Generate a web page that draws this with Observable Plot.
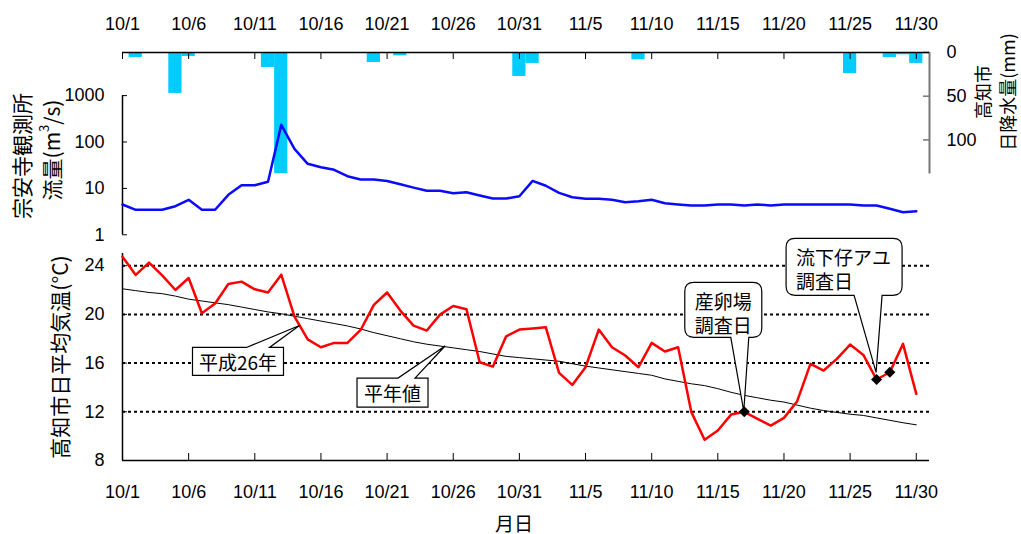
<!DOCTYPE html>
<html><head><meta charset="utf-8">
<script src="https://cdn.jsdelivr.net/npm/d3@7"></script>
<script src="https://cdn.jsdelivr.net/npm/@observablehq/plot@0.6"></script>
<style>
body{margin:0;background:#fff;}
#chart{position:relative;width:1021px;height:534px;overflow:hidden;background:#fff;}
#chart svg{position:absolute;left:0;top:0;}
</style></head><body><div id="chart"></div>
<script>
// ---------- data ----------
const YEAR = 2014;
const tickLabels = ["10/1","10/6","10/11","10/16","10/21","10/26","10/31","11/5","11/10","11/15","11/20","11/25","11/30"];
const flowTicks = [1, 10, 100, 1000];
const tempTicks = [8, 12, 16, 20, 24];
const rainTicks = [0, 50, 100];
const gridTemps = [12, 16, 20, 24];

// daily values 10/1 .. 11/30
const flow = [4.5,3.46,3.46,3.46,4.14,5.68,3.46,3.46,7.28,11.7,
  11.7,13.9,234,71.3,33.9,28.6,25.2,18.3,15.5,15.5,
  14.5,12.3,10.4,8.87,8.87,7.88,8.28,7.03,6.05,6.05,
  6.79,14.5,11.4,8.0,6.46,5.97,5.97,5.68,5.04,5.3,
  5.68,4.8,4.5,4.28,4.28,4.5,4.5,4.28,4.5,4.28,
  4.5,4.5,4.5,4.5,4.5,4.5,4.28,4.28,3.63,3.07,3.2];
const rain = [0,5.7,0,0,46.8,4.5,0,0,0,0,
  0,17.1,138.5,0,0,0,0,0,0,11.4,
  0,3.8,0,0,0,0,0,0,0,0,
  27.4,12.5,0,0,0,0,1.1,0,0,8.3,
  0,0,1.1,0,0,0,0,0,0,0,
  0,0,0,0,1.0,24,0,0,5.7,2.6,12.5];
const temp2014 = [24.74,23.24,24.25,23.2,22.0,22.99,20.09,20.9,22.5,22.69,
  22.06,21.8,23.26,19.82,17.95,17.3,17.66,17.66,18.72,20.78,
  21.8,20.31,19.08,18.67,19.98,20.69,20.42,16.07,15.71,18.2,
  18.75,18.85,18.94,15.2,14.21,15.66,18.75,17.3,16.62,15.66,
  17.66,16.95,17.3,11.97,9.7,10.46,11.77,12.0,11.42,10.87,
  11.5,12.87,15.94,15.39,16.35,17.52,16.67,14.65,15.25,17.58,13.47];
const tempNormal = [22.1,21.95,21.8,21.7,21.5,21.25,21.1,20.95,20.8,20.6,
  20.4,20.2,20.05,19.85,19.65,19.45,19.25,19.05,18.8,18.5,
  18.25,18.0,17.75,17.55,17.4,17.25,17.1,16.95,16.75,16.55,
  16.45,16.35,16.25,16.15,15.95,15.75,15.6,15.45,15.3,15.15,
  15.0,14.7,14.5,14.3,14.15,13.9,13.6,13.35,13.15,12.95,
  12.8,12.55,12.3,12.1,11.95,11.8,11.7,11.5,11.3,11.1,10.93];
const surveyDays = ["11/17","11/27","11/28"];
// callout anchors: label lines, date (M/D + hour), value on the temperature axis
const callouts = [
  {lines:["平成26年"], at:"10/14", hour:10.5, value:19.05, kind:"rect"},
  {lines:["平年値"], at:"10/25", hour:10, value:17.36, kind:"rect"},
  {lines:["産卵場","調査日"], at:"11/17", hour:0, value:12.0, kind:"round"},
  {lines:["流下仔アユ","調査日"], at:"11/27", hour:0, value:15.2, kind:"round"}
];

// ---------- helpers ----------
const parseMD = (s, h = 0) => { const [m, d] = s.split("/").map(Number); return new Date(Date.UTC(YEAR, m - 1, d, h)); };
const start = parseMD("10/1");
const end = parseMD("12/1");
const dates = temp2014.map((_, i) => new Date(start.getTime() + i * 864e5));
const tickDates = tickLabels.map(s => parseMD(s));
const fmt = d => `${d.getUTCMonth() + 1}/${d.getUTCDate()}`;
const half = 12 * 3600e3;
const flowData = dates.map((date, i) => ({date, flow: flow[i]}));
const rainData = dates.map((date, i) => ({d1: new Date(date - half), d2: new Date(+date + half), rain: rain[i]})).filter(d => d.rain > 0);
const tempData = dates.map((date, i) => ({date, t: temp2014[i]}));
const normData = dates.map((date, i) => ({date, t: tempNormal[i]}));
const surveyData = surveyDays.map(s => { const date = parseMD(s); const i = Math.round((date - start) / 864e5); return {date, t: temp2014[i]}; });

const W = 1021, H = 534;
const FONT = '"Liberation Sans", Arial, "Noto Sans CJK JP", sans-serif';
const JFONT = '"Noto Sans CJK JP", "Liberation Sans", sans-serif';
const common = {
  width: W, height: H, marginLeft: 122, marginRight: 92,
  style: {background: "transparent", fontFamily: FONT, fontSize: "18px", color: "#000", overflow: "visible"},
  x: {type: "utc", domain: [start, end]}
};
const chart = document.getElementById("chart");

// ---------- rain (right axis, hanging bars) ----------
const rainPlot = Plot.plot({
  ...common, marginTop: 52, marginBottom: H - 173.5,
  y: {domain: [0, 139], reverse: true},
  marks: [
    Plot.rectY(rainData, {x1: "d1", x2: "d2", y: "rain", fill: "#00ccff"}),
    Plot.ruleX([end], {stroke: "#777", strokeWidth: 2}),
    Plot.axisY({anchor: "right", ticks: rainTicks, tickSize: -7, tickPadding: 24, stroke: "#777", strokeWidth: 1.5, textAnchor: "start", fontSize: 18, fill: "#000", label: null}),
    Plot.axisX({ticks: [], label: null})
  ]
});
chart.append(rainPlot);

// ---------- flow (log) ----------
const flowTop = 8500;
const flowPlot = Plot.plot({
  ...common, marginTop: 52, marginBottom: H - 234.3,
  y: {type: "log", domain: [1, flowTop]},
  marks: [
    Plot.ruleX([start], {y1: 1, y2: 1000, strokeWidth: 1.5}),
    Plot.ruleY([flowTop], {strokeWidth: 1.5}),
    Plot.axisY({ticks: flowTicks, tickSize: -5, tickPadding: 23, tickFormat: d => String(d), fontSize: 18, label: null}),
    Plot.axisX({anchor: "top", ticks: tickDates, tickSize: -6, tickPadding: 29, tickFormat: fmt, fontSize: 18, label: null}),
    Plot.line(flowData, {x: "date", y: "flow", stroke: "#0a0aff", strokeWidth: 2.5})
  ]
});
chart.append(flowPlot);

// ---------- temperature ----------
const tempPlot = Plot.plot({
  ...common, marginTop: 253, marginBottom: H - 460,
  y: {domain: [8, 25]},
  marks: [
    Plot.ruleY(gridTemps, {strokeDasharray: "3,3", strokeWidth: 2}),
    Plot.ruleX([start], {strokeWidth: 1.5}),
    Plot.ruleY([8], {strokeWidth: 1.5}),
    Plot.axisY({ticks: tempTicks, tickSize: -5, tickPadding: 23, fontSize: 18, label: null}),
    Plot.axisX({anchor: "bottom", ticks: tickDates, tickSize: -7, tickPadding: 32, tickFormat: fmt, fontSize: 18, label: null}),
    Plot.line(normData, {x: "date", y: "t", stroke: "#000", strokeWidth: 1}),
    Plot.line(tempData, {x: "date", y: "t", stroke: "#ff0000", strokeWidth: 2.5}),
    Plot.dot(surveyData, {x: "date", y: "t", symbol: "diamond2", r: 5, fill: "#000"})
  ]
});
chart.append(tempPlot);

// callouts placed via the plot's own scales
(function () {
  const sx = tempPlot.scale("x"), sy = tempPlot.scale("y");
  const svg = d3.select(tempPlot);
  const g = svg.append("g").attr("font-family", JFONT).attr("font-size", 19);
  // box geometry relative to the tip (pixels)
  const geo = [
    {l: -107, t: 22, w: 91, h: 28, b1: -53, b2: -30},
    {l: -88, t: 32, w: 71, h: 29, b1: -47, b2: -30},
    {l: -59, t: -129, w: 77, h: 55, b1: -13, b2: 5},
    {l: -90, t: -134, w: 116, h: 57, b1: -22, b2: 6}
  ];
  callouts.forEach((c, i) => {
    const tx = sx.apply(parseMD(c.at, c.hour)), ty = sy.apply(c.value);
    const q = geo[i];
    const L = tx + q.l, T = ty + q.t, R = L + q.w, B = T + q.h;
    let p;
    if (c.kind === "rect") {
      p = `M${L},${T}L${tx + q.b1},${T}L${tx},${ty}L${tx + q.b2},${T}L${R},${T}L${R},${B}L${L},${B}Z`;
    } else {
      const r = 9;
      p = `M${L + r},${T}H${R - r}Q${R},${T} ${R},${T + r}V${B - r}Q${R},${B} ${R - r},${B}H${tx + q.b2}L${tx},${ty}L${tx + q.b1},${B}H${L + r}Q${L},${B} ${L},${B - r}V${T + r}Q${L},${T} ${L + r},${T}Z`;
    }
    g.append("path").attr("d", p).attr("fill", "#fff").attr("stroke", "#000").attr("stroke-width", 1.2);
    if (c.lines.length === 1) {
      g.append("text").attr("x", (L + R) / 2).attr("y", (T + B) / 2).attr("text-anchor", "middle").attr("dominant-baseline", "central").text(c.lines[0]);
    } else {
      c.lines.forEach((s, j) => g.append("text").attr("x", L + 10).attr("y", T + 18.5 + j * 24).attr("text-anchor", "start").attr("dominant-baseline", "central").text(s));
    }
  });
  // bring the survey markers above the callouts
  const dots = tempPlot.querySelector('g[aria-label="dot"]');
  if (dots) tempPlot.appendChild(dots);
})();

// ---------- axis titles ----------
const tsvg = d3.select(chart).append("svg").attr("width", W).attr("height", H)
  .attr("font-family", JFONT).attr("font-size", 21);
function vtext(x, y, size, build) {
  const t = tsvg.append("text").attr("transform", `translate(${x},${y}) rotate(-90)`)
    .attr("font-size", size).attr("text-anchor", "middle").attr("dominant-baseline", "central");
  build(t);
}
vtext(21, 156, 21, t => t.text("宗安寺観測所"));
vtext(51, 150, 21, t => {
  t.append("tspan").text("流量(m");
  t.append("tspan").attr("dy", -8).attr("font-size", 13).text("3");
  t.append("tspan").attr("dy", 8).text("/s)");
});
vtext(59, 357, 21, t => t.text("高知市日平均気温(°C)"));
vtext(982, 92, 18, t => t.text("高知市"));
vtext(1007, 92, 18, t => t.text("日降水量(mm)"));
tsvg.append("text").attr("x", 514).attr("y", 522).attr("font-size", 19).attr("text-anchor", "middle").attr("dominant-baseline", "central").text("月日");
</script></body></html>
